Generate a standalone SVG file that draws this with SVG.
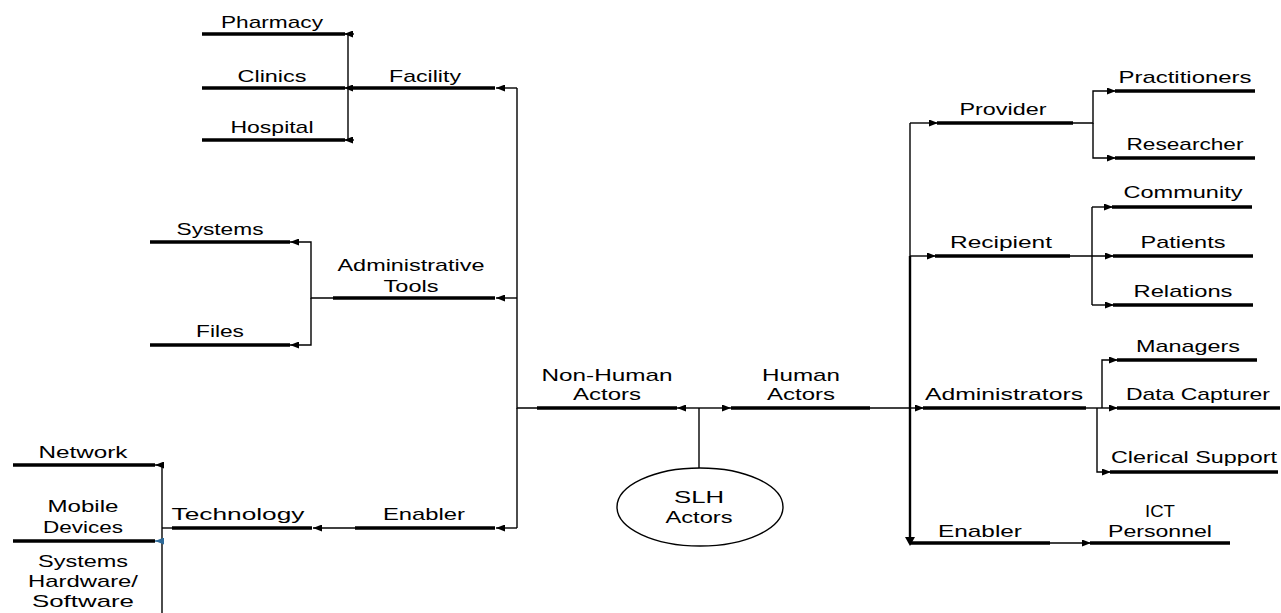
<svg xmlns="http://www.w3.org/2000/svg" width="1281" height="613" viewBox="0 0 1281 613">
<style>
.t{font-family:"Liberation Sans",Arial,sans-serif;font-size:17px;fill:#000;text-anchor:middle}
.u{stroke:#000;stroke-width:3.4;fill:none}
.c{stroke:#000;stroke-width:1.4;fill:none}
.cm{stroke:#000;stroke-width:1.4;fill:none;marker-end:url(#ah)}
</style>
<defs>
<marker id="ah" markerUnits="userSpaceOnUse" markerWidth="9" markerHeight="7" refX="9" refY="3.5" orient="auto"><path d="M0,0 L9,3.5 L0,7 z" fill="#000"/></marker>
<marker id="ahb" markerUnits="userSpaceOnUse" markerWidth="9" markerHeight="7" refX="9" refY="3.5" orient="auto"><path d="M0,0 L9,3.5 L0,7 z" fill="#2e6a99"/></marker>
</defs>
<rect width="1281" height="613" fill="#fff"/>

<g id="pharmacy"><line class="u" x1="202" y1="34" x2="345" y2="34"/><text class="t" x="272" y="28" textLength="102" lengthAdjust="spacingAndGlyphs">Pharmacy</text></g>
<g id="clinics"><line class="u" x1="202" y1="88" x2="345" y2="88"/><text class="t" x="272" y="82" textLength="69" lengthAdjust="spacingAndGlyphs">Clinics</text></g>
<g id="hospital"><line class="u" x1="202" y1="140" x2="345" y2="140"/><text class="t" x="272" y="133" textLength="83" lengthAdjust="spacingAndGlyphs">Hospital</text></g>
<g id="facility"><line class="u" x1="353" y1="88" x2="495" y2="88"/><text class="t" x="425" y="82" textLength="72" lengthAdjust="spacingAndGlyphs">Facility</text></g>
<g id="systems"><line class="u" x1="150" y1="242" x2="290" y2="242"/><text class="t" x="220" y="235" textLength="87" lengthAdjust="spacingAndGlyphs">Systems</text></g>
<g id="files"><line class="u" x1="150" y1="345" x2="290" y2="345"/><text class="t" x="220" y="337" textLength="48" lengthAdjust="spacingAndGlyphs">Files</text></g>
<g id="administrative-tools"><line class="u" x1="333" y1="298" x2="495" y2="298"/><text class="t" x="411" y="271" textLength="147" lengthAdjust="spacingAndGlyphs">Administrative</text><text class="t" x="411" y="292" textLength="55" lengthAdjust="spacingAndGlyphs">Tools</text></g>
<g id="network"><line class="u" x1="13" y1="465" x2="155" y2="465"/><text class="t" x="83" y="458" textLength="89" lengthAdjust="spacingAndGlyphs">Network</text></g>
<g id="mobile-devices"><line class="u" x1="13" y1="541" x2="155" y2="541"/><text class="t" x="83" y="512" textLength="71" lengthAdjust="spacingAndGlyphs">Mobile</text><text class="t" x="83" y="533" textLength="80" lengthAdjust="spacingAndGlyphs">Devices</text></g>
<g id="systems-hw-sw"><text class="t" x="83" y="567" textLength="90" lengthAdjust="spacingAndGlyphs">Systems</text><text class="t" x="83" y="587" textLength="110" lengthAdjust="spacingAndGlyphs">Hardware/</text><text class="t" x="83" y="607" textLength="102" lengthAdjust="spacingAndGlyphs">Software</text></g>
<g id="technology"><line class="u" x1="172" y1="528" x2="312" y2="528"/><text class="t" x="238" y="520" textLength="133" lengthAdjust="spacingAndGlyphs">Technology</text></g>
<g id="enabler-left"><line class="u" x1="355" y1="528" x2="495" y2="528"/><text class="t" x="424" y="520" textLength="82" lengthAdjust="spacingAndGlyphs">Enabler</text></g>
<g id="non-human-actors"><line class="u" x1="537" y1="408" x2="677" y2="408"/><text class="t" x="607" y="381" textLength="131" lengthAdjust="spacingAndGlyphs">Non-Human</text><text class="t" x="607" y="400" textLength="68" lengthAdjust="spacingAndGlyphs">Actors</text></g>
<g id="human-actors"><line class="u" x1="731" y1="408" x2="870" y2="408"/><text class="t" x="801" y="381" textLength="78" lengthAdjust="spacingAndGlyphs">Human</text><text class="t" x="801" y="400" textLength="68" lengthAdjust="spacingAndGlyphs">Actors</text></g>
<g id="slh-actors"><ellipse cx="700" cy="507" rx="83" ry="39" fill="#fff" stroke="#000" stroke-width="1.4"/><text class="t" x="699" y="503" textLength="50" lengthAdjust="spacingAndGlyphs">SLH</text><text class="t" x="699" y="523" textLength="67" lengthAdjust="spacingAndGlyphs">Actors</text></g>
<g id="provider"><line class="u" x1="937" y1="123" x2="1073" y2="123"/><text class="t" x="1003" y="115" textLength="87" lengthAdjust="spacingAndGlyphs">Provider</text></g>
<g id="practitioners"><line class="u" x1="1115" y1="91" x2="1255" y2="91"/><text class="t" x="1185" y="83" textLength="133" lengthAdjust="spacingAndGlyphs">Practitioners</text></g>
<g id="researcher"><line class="u" x1="1115" y1="158" x2="1255" y2="158"/><text class="t" x="1185" y="150" textLength="117" lengthAdjust="spacingAndGlyphs">Researcher</text></g>
<g id="recipient"><line class="u" x1="935" y1="256" x2="1070" y2="256"/><text class="t" x="1001" y="248" textLength="102" lengthAdjust="spacingAndGlyphs">Recipient</text></g>
<g id="community"><line class="u" x1="1112" y1="207" x2="1252" y2="207"/><text class="t" x="1183" y="198" textLength="119" lengthAdjust="spacingAndGlyphs">Community</text></g>
<g id="patients"><line class="u" x1="1113" y1="256" x2="1253" y2="256"/><text class="t" x="1183" y="248" textLength="85" lengthAdjust="spacingAndGlyphs">Patients</text></g>
<g id="relations"><line class="u" x1="1113" y1="305" x2="1253" y2="305"/><text class="t" x="1183" y="297" textLength="99" lengthAdjust="spacingAndGlyphs">Relations</text></g>
<g id="administrators"><line class="u" x1="923" y1="408" x2="1086" y2="408"/><text class="t" x="1004" y="400" textLength="158" lengthAdjust="spacingAndGlyphs">Administrators</text></g>
<g id="managers"><line class="u" x1="1117" y1="360" x2="1257" y2="360"/><text class="t" x="1188" y="352" textLength="104" lengthAdjust="spacingAndGlyphs">Managers</text></g>
<g id="data-capturer"><line class="u" x1="1117" y1="408" x2="1280" y2="408"/><text class="t" x="1198" y="400" textLength="144" lengthAdjust="spacingAndGlyphs">Data Capturer</text></g>
<g id="clerical-support"><line class="u" x1="1110" y1="472" x2="1278" y2="472"/><text class="t" x="1194" y="463" textLength="166" lengthAdjust="spacingAndGlyphs">Clerical Support</text></g>
<g id="enabler-right"><line class="u" x1="910" y1="543" x2="1050" y2="543"/><text class="t" x="980" y="537" textLength="84" lengthAdjust="spacingAndGlyphs">Enabler</text></g>
<g id="ict-personnel"><line class="u" x1="1090" y1="543" x2="1230" y2="543"/><text class="t" x="1160" y="517" textLength="30" lengthAdjust="spacingAndGlyphs">ICT</text><text class="t" x="1160" y="537" textLength="104" lengthAdjust="spacingAndGlyphs">Personnel</text></g>

<g id="connectors">
<!-- facility branch -->
<path class="c" d="M348,34 V140"/>
<path class="cm" d="M354,34 H344"/>
<path class="cm" d="M354,88 H344"/>
<path class="cm" d="M354,140 H344"/>
<!-- left trunk -->
<path class="c" d="M537,408 H517 V88"/>
<path class="c" d="M517,408 V528"/>
<path class="cm" d="M517,88 H496"/>
<path class="cm" d="M517,298 H496"/>
<path class="cm" d="M517,528 H496"/>
<!-- admin tools -->
<path class="cm" d="M333,298 H311 V242 H290"/>
<path class="cm" d="M311,298 V345 H290"/>
<!-- technology -->
<path class="cm" d="M355,528 H313"/>
<path class="c" d="M172,528 H162"/>
<path class="c" d="M162,465 V613"/>
<path class="cm" d="M163,465 H155"/>
<path d="M163,541 H155" stroke="#2e6a99" stroke-width="1.4" fill="none" marker-end="url(#ahb)"/>
<!-- center -->
<path class="c" d="M699,468 V408"/>
<path class="cm" d="M699,408 H677"/>
<path class="cm" d="M699,408 H731"/>
<!-- right trunk -->
<path class="c" d="M870,408 H910"/>
<path class="c" d="M910,123 V256"/>
<path d="M910,256 V540" stroke="#000" stroke-width="2.4" fill="none"/>
<path d="M905,537 L910,546 L915,537 z" fill="#000"/>
<path class="cm" d="M910,123 H938"/>
<path class="cm" d="M910,256 H936"/>
<path class="cm" d="M910,408 H924"/>
<path class="cm" d="M1050,543 H1091"/>
<!-- provider -->
<path class="cm" d="M1073,123 H1093 V91 H1116"/>
<path class="cm" d="M1093,123 V158 H1116"/>
<!-- recipient -->
<path class="cm" d="M1070,256 H1114"/>
<path class="c" d="M1092,207 V305"/>
<path class="cm" d="M1092,207 H1113"/>
<path class="cm" d="M1092,305 H1114"/>
<!-- administrators -->
<path class="cm" d="M1086,408 H1118"/>
<path class="cm" d="M1102,408 V360 H1118"/>
<path class="cm" d="M1097,408 V472 H1111"/>
</g>
</svg>
